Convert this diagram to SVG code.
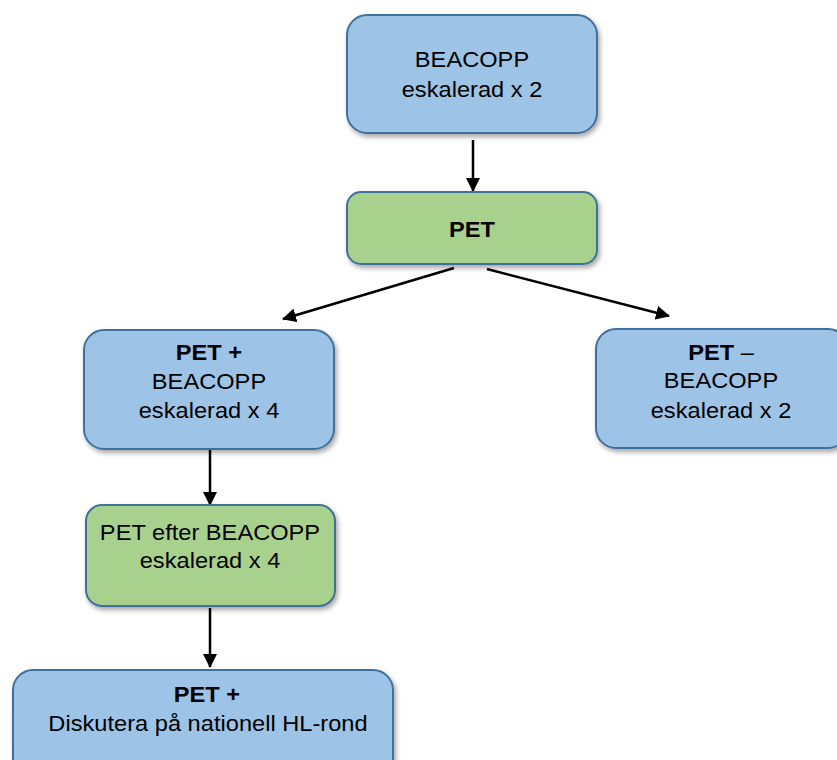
<svg xmlns="http://www.w3.org/2000/svg" width="837" height="760" viewBox="0 0 837 760">
<style>
.box{stroke:#41719C;stroke-width:2;filter:url(#sh)}
.blue{fill:#9DC3E6}
.green{fill:#A9D18E}
text{font-family:"Liberation Sans",Arial,sans-serif;font-size:22px;fill:#000;text-anchor:middle}
.b{font-weight:bold}
.con{stroke:#000;stroke-width:2.5;fill:none;marker-end:url(#ah)}
</style>
<defs>
<filter id="sh" x="-10%" y="-10%" width="125%" height="135%">
<feDropShadow dx="2" dy="3" stdDeviation="2.5" flood-color="#000" flood-opacity="0.35"/>
</filter>
<marker id="ah" markerUnits="userSpaceOnUse" markerWidth="14" markerHeight="14" viewBox="0 0 14 14" refX="13" refY="7" orient="auto">
<path d="M0,0 L14,7 L0,14 Z" fill="#000"/>
</marker>
</defs>
<g id="connectors">
<line class="con" x1="473" y1="140" x2="473" y2="191"/>
<line class="con" x1="454" y1="268" x2="283" y2="319"/>
<line class="con" x1="487" y1="269" x2="669" y2="316"/>
<line class="con" x1="210" y1="450" x2="210" y2="505"/>
<line class="con" x1="210" y1="608" x2="210" y2="667"/>
</g>
<g id="n1">
<rect class="box blue" x="347" y="15" width="250" height="118" rx="20"/>
<text transform="matrix(1.075 0 0 1 472 0)" x="0" y="67">BEACOPP</text>
<text transform="matrix(1.075 0 0 1 472 0)" x="0" y="97">eskalerad x 2</text>
</g>
<g id="n2">
<rect class="box green" x="347" y="192" width="250" height="72" rx="14"/>
<text class="b" transform="matrix(1.075 0 0 1 472 0)" x="0" y="237">PET</text>
</g>
<g id="n3">
<rect class="box blue" x="84" y="330" width="250" height="119" rx="20"/>
<text class="b" transform="matrix(1.075 0 0 1 209 0)" x="0" y="360">PET +</text>
<text transform="matrix(1.075 0 0 1 209 0)" x="0" y="389">BEACOPP</text>
<text transform="matrix(1.075 0 0 1 209 0)" x="0" y="418">eskalerad x 4</text>
</g>
<g id="n4">
<rect class="box blue" x="596" y="329" width="252" height="119" rx="20"/>
<text transform="matrix(1.075 0 0 1 721 0)" x="0" y="360"><tspan class="b">PET</tspan> –</text>
<text transform="matrix(1.075 0 0 1 721 0)" x="0" y="388">BEACOPP</text>
<text transform="matrix(1.075 0 0 1 721 0)" x="0" y="418">eskalerad x 2</text>
</g>
<g id="n5">
<rect class="box green" x="86" y="505" width="249" height="101" rx="16"/>
<text transform="matrix(1.075 0 0 1 210 0)" x="0" y="540">PET efter BEACOPP</text>
<text transform="matrix(1.075 0 0 1 210 0)" x="0" y="568">eskalerad x 4</text>
</g>
<g id="n6">
<rect class="box blue" x="13" y="670" width="380" height="110" rx="20"/>
<text class="b" transform="matrix(1.075 0 0 1 207 0)" x="0" y="702">PET +</text>
<text transform="matrix(1.075 0 0 1 208 0)" x="0" y="731">Diskutera på nationell HL-rond</text>
</g>
</svg>
